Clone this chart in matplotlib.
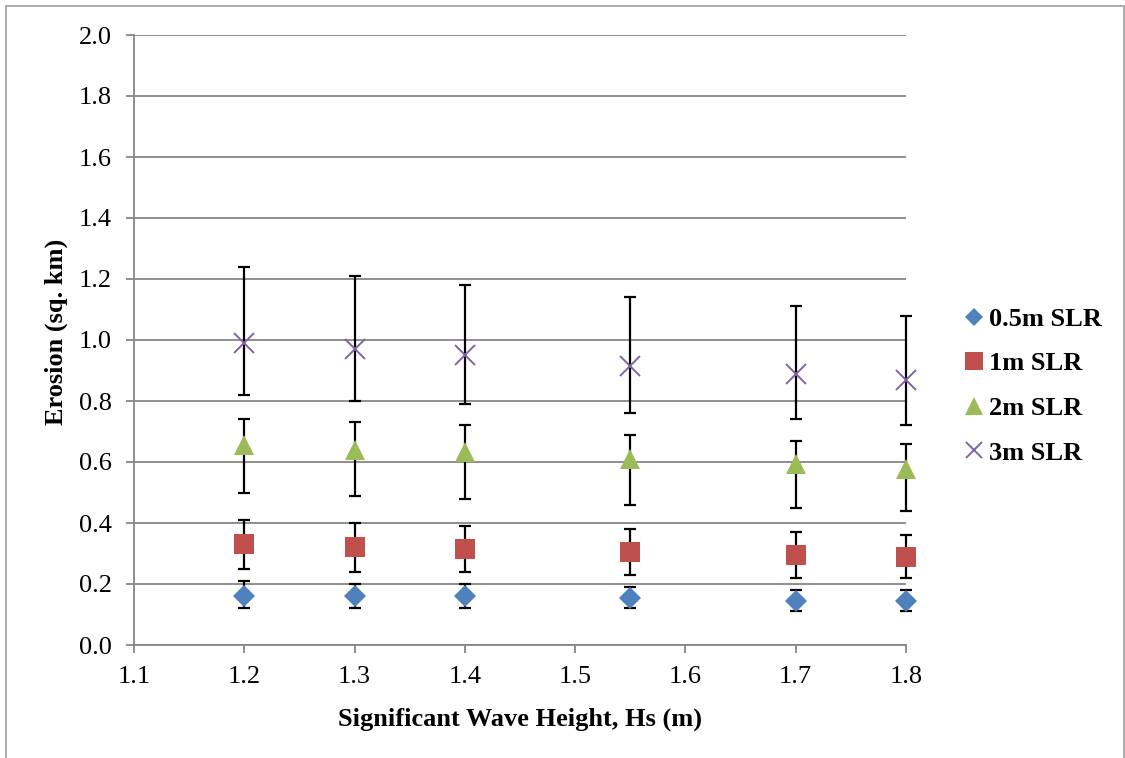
import numpy as np
import matplotlib
matplotlib.use('Agg')
import matplotlib.pyplot as plt
from matplotlib.patches import Rectangle

# wave height (m)
hs = [1.2, 1.3, 1.4, 1.55, 1.7, 1.8]

# erosion (sq. km) and error bar ends
slr05 = [0.162, 0.16, 0.16, 0.155, 0.144, 0.144]
slr05_hi = [0.21, 0.20, 0.20, 0.19, 0.18, 0.18]
slr05_lo = [0.12, 0.12, 0.12, 0.12, 0.11, 0.11]

slr1 = [0.33, 0.32, 0.314, 0.305, 0.295, 0.29]
slr1_hi = [0.41, 0.40, 0.39, 0.38, 0.37, 0.36]
slr1_lo = [0.25, 0.24, 0.24, 0.23, 0.22, 0.22]

slr2 = [0.655, 0.64, 0.632, 0.61, 0.594, 0.578]
slr2_hi = [0.74, 0.73, 0.72, 0.69, 0.67, 0.66]
slr2_lo = [0.50, 0.49, 0.48, 0.46, 0.45, 0.44]

slr3 = [0.99, 0.97, 0.95, 0.914, 0.89, 0.868]
slr3_hi = [1.24, 1.21, 1.18, 1.14, 1.11, 1.08]
slr3_lo = [0.82, 0.80, 0.79, 0.76, 0.74, 0.72]

labels = ['0.5m SLR', '1m SLR', '2m SLR', '3m SLR']

plt.rcParams['font.family'] = ['Liberation Serif', 'DejaVu Serif']

W, H = 1125, 758
fig = plt.figure(figsize=(W / 100, H / 100), dpi=100)
ax = fig.add_axes([134 / W, (H - 645) / H, 772 / W, 610 / H])

grey = '#868686'
fs = 19
series = [
    (slr05, slr05_lo, slr05_hi, 'D', '#4F81BD', 11, labels[0]),
    (slr1, slr1_lo, slr1_hi, 's', '#C0504D', 15, labels[1]),
    (slr2, slr2_lo, slr2_hi, '^', '#9BBB59', 15, labels[2]),
    (slr3, slr3_lo, slr3_hi, 'x', '#8064A2', 14, labels[3]),
]

for y, lo, hi, mk, col, ms, lab in series:
    y = np.array(y)
    yerr = [y - np.array(lo), np.array(hi) - y]
    eb = ax.errorbar(hs, y, yerr=yerr, fmt='none', ecolor='black', elinewidth=1.6,
                     capsize=4.3, capthick=1.6, zorder=3)
    for art in eb.lines[1] + eb.lines[2]:
        art.set_clip_on(False)
    ax.plot(hs, y, linestyle='none', marker=mk, color=col, ms=ms,
            mew=1.4 if mk == 'x' else 0, label=lab, zorder=4, clip_on=False)

ax.set_xlim(1.1, 1.8)
ax.set_ylim(0, 2.0)
ax.set_xticks(np.arange(1.1, 1.81, 0.1))
ax.set_yticks(np.arange(0, 2.01, 0.2))
ax.xaxis.set_major_formatter(plt.FormatStrFormatter('%.1f'))
ax.yaxis.set_major_formatter(plt.FormatStrFormatter('%.1f'))
ax.yaxis.grid(True, color=grey, linewidth=1.3)
ax.set_axisbelow(True)

for s in ['top', 'right']:
    ax.spines[s].set_visible(False)
for s in ['left', 'bottom']:
    ax.spines[s].set_color(grey)
    ax.spines[s].set_linewidth(1.3)
ax.tick_params(axis='both', direction='out', length=6, width=1.3, color=grey,
               labelsize=fs, labelcolor='black')
ax.tick_params(axis='y', pad=10)
ax.tick_params(axis='x', pad=9)

ax.set_xlabel('Significant Wave Height, Hs (m)', fontsize=fs, fontweight='bold', labelpad=14)
ax.set_ylabel('Erosion (sq. km)', fontsize=fs, fontweight='bold', labelpad=8, y=0.513)

fig.legend(loc='center left', bbox_to_anchor=(934 / W, 1 - 386 / H), frameon=False,
           prop={'weight': 'bold', 'size': fs}, handletextpad=0.0,
           labelspacing=0.8, handlelength=1.2, markerscale=0.85)

fig.patches.append(Rectangle((6 / W, -0.05), (1124 - 6) / W, 1.05 - 6 / H,
                             transform=fig.transFigure, fill=False,
                             edgecolor='#A6A6A6', linewidth=1.3))

fig.savefig('out.png', dpi=100)
